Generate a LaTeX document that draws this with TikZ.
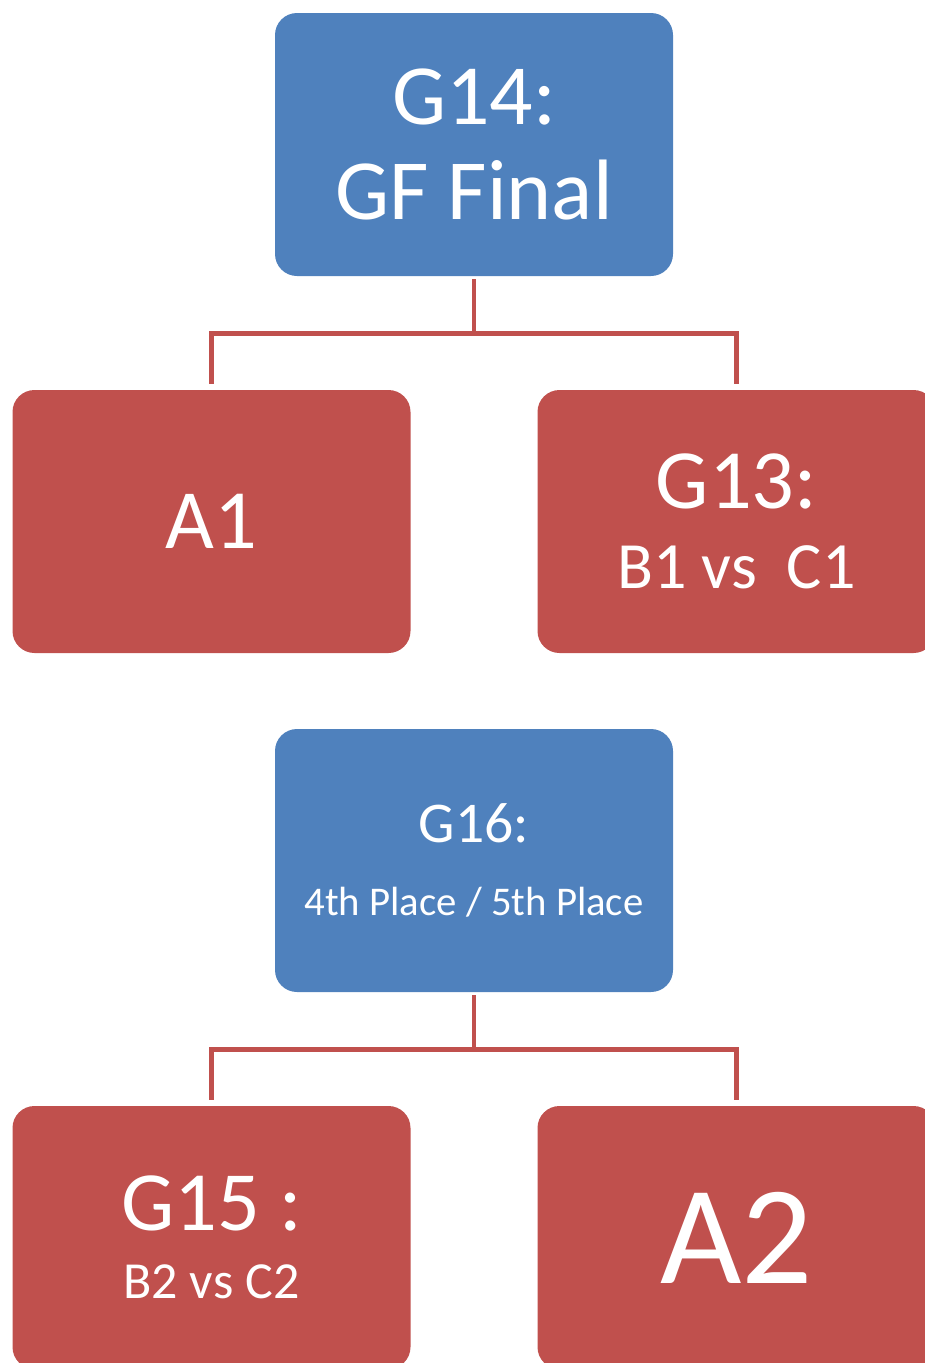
\documentclass[tikz,border=0pt]{standalone}
\usepackage{fontspec}
\setmainfont{Carlito}
\usepackage{tikz}
\usetikzlibrary{trees}
\usetikzlibrary{positioning}

\definecolor{gameblue}{HTML}{4F81BD}
\definecolor{gamered}{HTML}{C0504D}

\begin{document}
\begin{tikzpicture}[
      grow=down,
      level distance=9.425cm,
      sibling distance=13.125cm,
      edge from parent/.style={draw=gamered, line width=3.5pt, shorten <=0.075cm, shorten >=0.15cm},
      edge from parent path={(\tikzparentnode.south) -- ++(0,-1.425) -| (\tikzchildnode.north)},
      gamebox/.style={rectangle, rounded corners=0.55cm, inner sep=0pt, text=white, align=center,
        minimum width=9.95cm, minimum height=6.575cm},
      finalbox/.style={gamebox, fill=gameblue},
      seedbox/.style={gamebox, fill=gamered}
    ]
    \useasboundingbox (0,0) rectangle (23.125,-34.075);
    \clip (0,0) rectangle (23.125,-34.075);

    % Grand final tree:
    \node[finalbox, font=\fontsize{61}{68}\selectfont] (G14) at (11.85,-3.6125) {G14:\\GF Final}
      child {
        node[seedbox, font=\fontsize{60}{68}\selectfont] (A1) {A1}
      }
      child {
        node[seedbox, font=\fontsize{60}{57}\selectfont] (G13) {G13:\\\fontsize{47}{57}\selectfont B1 vs\ \ C1}
      };

    % Placing game tree:
    \node[finalbox, font=\fontsize{41}{52}\selectfont] (G16) at (11.85,-21.5125) {G16:\\\fontsize{29}{52}\selectfont 4th Place / 5th Place}
      child {
        node[seedbox, font=\fontsize{60}{48}\selectfont] (G15) {G15 :\\\fontsize{37}{48}\selectfont B2 vs C2}
      }
      child {
        node[seedbox, font=\fontsize{100}{110}\selectfont] (A2) {A2}
      };

  \end{tikzpicture}
\end{document}
